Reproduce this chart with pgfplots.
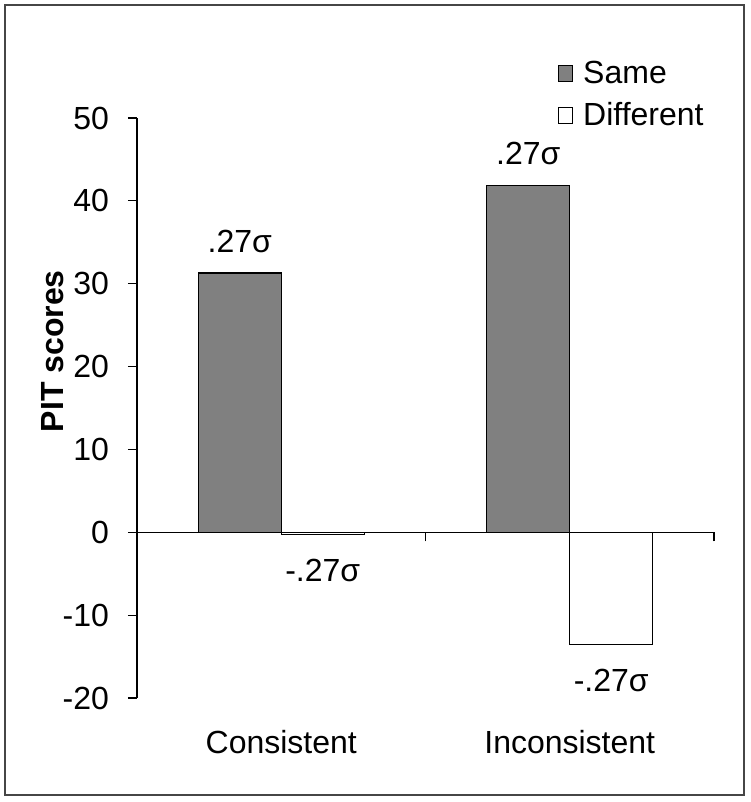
\documentclass[border=0pt]{standalone}
\usepackage{fontspec}
\setmainfont{Liberation Sans}
\usepackage{pgfplots}
\pgfplotsset{compat=1.18}
\definecolor{samegray}{RGB}{128,128,128}
\definecolor{framegray}{RGB}{70,70,70}
\newcommand\fs{\fontsize{16}{19}\selectfont}

\begin{document}
\begin{tikzpicture}
\useasboundingbox (-68.5pt,-52pt) rectangle (306.5pt,349pt);
\begin{axis}[
    scale only axis, clip=false,
    width=288.5pt, height=290pt,
    xmin=0, xmax=2, ymin=-20, ymax=50,
    axis y line=left, axis x line=middle,
    axis line style={-, black, line width=0.6pt},
    hide obscured x ticks=false, hide obscured y ticks=false,
    ytick={-20,-10,...,50},
    xtick={1,2}, xticklabels={},
    tick align=outside, major tick length=4.5pt,
    tick style={black, line width=0.6pt},
    yticklabel style={font=\fs, xshift=-6pt},
    /pgf/number format/assume math mode=true,
    ylabel={PIT scores},
    ylabel style={font=\fs\bfseries, at={(axis description cs:-0.147,0.598)}, anchor=center},
    ybar=0pt, bar width=41.5pt,
    point meta=explicit symbolic,
    nodes near coords,
    every node near coord/.append style={font=\fs, inner xsep=0pt, inner ysep=10pt, anchor=south},
    legend image code/.code={\draw[#1] (0pt,-4pt) rectangle (7pt,4pt);},
    legend style={at={(0.729,1.106)}, anchor=north west, draw=none, fill=none,
        font=\fs, row sep=4pt, inner sep=0pt,
        /tikz/every odd column/.append style={column sep=3pt}},
    legend cell align=left,
]
\addplot[fill=samegray, draw=black, line width=0.6pt] coordinates {(0.5,31.3) [.27σ] (1.5,41.9) [.27σ]};
\addplot[fill=white, draw=black, line width=0.6pt,
    every node near coord/.append style={anchor=north, inner ysep=12pt}]
    coordinates {(0.5,-0.3) [-.27σ] (1.5,-13.5) [-.27σ]};
\legend{Same,Different}
\node[font=\fs] at (axis cs:0.5,-20) [yshift=-22pt] {Consistent};
\node[font=\fs] at (axis cs:1.5,-20) [yshift=-22pt] {Inconsistent};
\end{axis}
\draw[line width=1pt, framegray] (-66pt,-48.5pt) rectangle (303.5pt,346.5pt);
\end{tikzpicture}
\end{document}
